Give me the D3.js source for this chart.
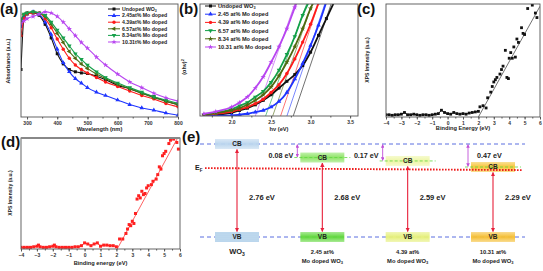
<!DOCTYPE html>
<html><head><meta charset="utf-8">
<script src="https://cdn.jsdelivr.net/npm/d3@7"></script>
<style>
body{margin:0;background:#fff}
svg{display:block;font-family:"Liberation Sans",Arial,sans-serif;font-weight:bold}
</style></head><body>
<svg id="fig" width="543" height="271"></svg>
<script>
// ── Data ────────────────────────────────────────────────────────────────────
const sampleLabelsA = ['Undoped WO', '2.45at% Mo doped', '4.39at% Mo doped', '6.57at% Mo doped', '8.34at% Mo doped', '10.31t% Mo doped'];
const sampleLabelsB = ['Undoped WO', '2.45 at% Mo doped', '4.39 at% Mo doped', '6.57 at% Mo doped', '8.34 at% Mo doped', '10.31 at% Mo doped'];

// (a) absorbance vs wavelength
const wavelengths = [280, 290, 300, 320, 340, 360, 380, 400, 420, 440, 460, 480, 500, 530, 560, 600, 640, 680, 720, 760, 800];
const absUndoped = [0.42, 0.88, 0.92, 0.92, 0.90, 0.82, 0.70, 0.56, 0.47, 0.42, 0.40, 0.39, 0.385, 0.36, 0.33, 0.28, 0.25, 0.21, 0.18, 0.14, 0.11];
const abs245 = [0.80, 0.89, 0.91, 0.93, 0.91, 0.84, 0.73, 0.60, 0.48, 0.40, 0.34, 0.30, 0.26, 0.22, 0.19, 0.15, 0.11, 0.08, 0.06, 0.035, 0.015];
const abs439 = [0.72, 0.87, 0.91, 0.92, 0.92, 0.87, 0.79, 0.69, 0.60, 0.52, 0.46, 0.42, 0.39, 0.35, 0.31, 0.27, 0.23, 0.19, 0.16, 0.12, 0.09];
const abs657 = [0.85, 0.91, 0.92, 0.93, 0.92, 0.89, 0.82, 0.74, 0.66, 0.58, 0.52, 0.47, 0.43, 0.38, 0.34, 0.29, 0.25, 0.21, 0.17, 0.14, 0.11];
const abs834 = [0.86, 0.91, 0.92, 0.93, 0.92, 0.90, 0.84, 0.77, 0.70, 0.63, 0.56, 0.51, 0.46, 0.40, 0.35, 0.30, 0.26, 0.22, 0.18, 0.15, 0.12];
const abs1031 = [0.83, 0.85, 0.87, 0.89, 0.91, 0.93, 0.92, 0.89, 0.84, 0.78, 0.72, 0.66, 0.61, 0.53, 0.46, 0.38, 0.31, 0.26, 0.21, 0.17, 0.14];

// (b) Tauc plot (αhν)² vs hν
const photonEv = [1.65, 1.8, 2.0, 2.1, 2.2, 2.3, 2.4, 2.5, 2.6, 2.7, 2.8, 2.9, 3.0, 3.1, 3.2, 3.3];
const taucUndoped = [0, 0.01, 0.03, 0.05, 0.07, 0.10, 0.14, 0.19, 0.25, 0.31, 0.37, 0.45, 0.57, 0.72, 0.87, 1.02];
const tauc245 = [0, 0.003, 0.006, 0.012, 0.02, 0.035, 0.05, 0.08, 0.13, 0.21, 0.33, 0.47, 0.63, 0.81, 1.02];
const tauc439 = [0.01, 0.02, 0.04, 0.06, 0.08, 0.11, 0.15, 0.21, 0.28, 0.38, 0.51, 0.66, 0.82, 1.01];
const tauc657 = [0.01, 0.03, 0.06, 0.09, 0.12, 0.17, 0.22, 0.30, 0.41, 0.55, 0.71, 0.90, 1.05];
const tauc834 = [0.01, 0.025, 0.05, 0.07, 0.10, 0.14, 0.19, 0.26, 0.36, 0.48, 0.62, 0.78, 0.96, 1.1];
const tauc1031 = [0.02, 0.04, 0.08, 0.12, 0.17, 0.25, 0.35, 0.48, 0.62, 0.78, 0.97, 1.15];
// tangent lines: hν where they meet the baseline and where they reach the top
const tangentLow = [2.78, 2.70, 2.62, 2.43, 2.52, 2.30];
const tangentHigh = [3.26, 3.18, 3.10, 2.95, 3.02, 2.80];

// (c) XPS valence band, undoped WO3
const xpsC = [[-4.0,0.02],[-3.8,0.02],[-3.6,0.015],[-3.4,0.02],[-3.2,0.02],[-3.0,0.025],[-2.8,0.04],[-2.6,0.02],[-2.4,0.02],[-2.2,0.025],[-2.0,0.02],[-1.8,0.015],[-1.6,0.02],[-1.4,0.02],[-1.2,0.015],[-1.0,0.02],[-0.8,0.025],[-0.6,0.03],[-0.4,0.06],[-0.2,0.04],[0.0,0.03],[0.2,0.025],[0.4,0.04],[0.6,0.03],[0.8,0.025],[1.0,0.03],[1.2,0.025],[1.4,0.035],[1.6,0.04],[1.8,0.045],[2.0,0.05],
  [2.1,0.09],[2.3,0.10],[2.5,0.08],[2.6,0.17],[2.8,0.22],[2.9,0.27],[3.0,0.31],[3.1,0.33],[3.2,0.35],[3.4,0.38],[3.5,0.42],[3.6,0.45],[3.75,0.59],[3.85,0.35],[3.95,0.34],[4.0,0.52],[4.1,0.57],[4.2,0.52],[4.3,0.62],[4.4,0.53],[4.5,0.69],[4.6,0.66],[4.8,0.79],[4.9,0.74],[5.0,0.73],[5.2,0.96],[5.5,0.99],[5.7,0.92],[5.8,0.88]];
const fitC = [[2.0, 0], [6.0, 0.98]];

// (d) XPS valence band, Mo doped
const xpsD = [[-4.0,0.015],[-3.8,0.015],[-3.6,0.015],[-3.4,0.015],[-3.2,0.02],[-3.0,0.025],[-2.9,0.035],[-2.8,0.02],[-2.6,0.015],[-2.4,0.015],[-2.2,0.02],[-2.0,0.025],[-1.9,0.035],[-1.8,0.02],[-1.6,0.015],[-1.4,0.015],[-1.2,0.015],[-1.0,0.015],[-0.8,0.015],[-0.6,0.02],[-0.4,0.02],[-0.2,0.03],[0.0,0.055],[0.2,0.045],[0.4,0.03],[0.6,0.045],[0.8,0.055],[1.0,0.025],[1.2,0.035],[1.4,0.035],[1.6,0.03],[1.8,0.03],[2.0,0.02],
  [2.2,0.09],[2.4,0.09],[2.6,0.14],[2.7,0.18],[2.8,0.22],[2.9,0.21],[3.0,0.25],[3.1,0.23],[3.2,0.32],[3.3,0.45],[3.4,0.48],[3.5,0.46],[3.6,0.52],[3.7,0.49],[3.8,0.50],[3.9,0.55],[4.0,0.57],[4.2,0.58],[4.3,0.61],[4.5,0.63],[4.6,0.67],[4.7,0.74],[4.8,0.72],[4.9,0.84],[5.0,0.86],[5.1,0.88],[5.3,0.95],[5.4,0.98],[5.6,0.99],[5.8,0.96],[5.9,0.90]];
const fitD = [[2.05, 0], [5.85, 1.0]];

// (e) band diagram
const bandSamples = ['WO3', '2.45', '4.39', '10.31'];
const cbShift = [0, 0.08, 0.17, 0.47];
const bandGaps = [2.76, 2.68, 2.59, 2.29];
const fermiShift = 0.55;

// ── Figure ──────────────────────────────────────────────────────────────────
const svg = d3.select('#fig');
const defs = svg.append('defs');
const sym = t => d3.symbol().type(t).size(9);

function axisText(sel) {
  sel.selectAll('text').attr('font-size', 5).attr('fill', '#333').attr('font-weight', 'bold');
  sel.selectAll('line').attr('stroke', '#555');
  sel.select('.domain').remove();
}

function makePanel(id, b, xDom, yDom, major, minor, fmt) {
  const x = d3.scaleLinear(xDom, [b.x0, b.x1]);
  const y = d3.scaleLinear(yDom, [b.y1, b.y0]);
  const g = svg.append('g');
  defs.append('clipPath').attr('id', 'clip-' + id).append('rect')
    .attr('x', b.x0).attr('y', b.y0).attr('width', b.x1 - b.x0).attr('height', b.y1 - b.y0);
  g.append('g').attr('transform', `translate(0,${b.y1})`)
    .call(d3.axisBottom(x).tickValues(minor).tickSize(1.5).tickFormat(''))
    .call(axisText);
  g.append('g').attr('transform', `translate(0,${b.y1})`)
    .call(d3.axisBottom(x).tickValues(major).tickSize(2.5).tickPadding(2).tickFormat(fmt))
    .call(axisText);
  const plot = g.append('g').attr('clip-path', `url(#clip-${id})`);
  g.append('rect').attr('x', b.x0).attr('y', b.y0)
    .attr('width', b.x1 - b.x0).attr('height', b.y1 - b.y0)
    .attr('fill', 'none').attr('stroke', '#555').attr('stroke-width', 0.9);
  return { g, plot, x, y };
}

function panelLabel(txt, x, y) {
  svg.append('text').attr('x', x).attr('y', y).attr('font-size', 15).attr('fill', '#111').text(txt);
}

function sideLabel(txt, x, cy, size) {
  return svg.append('text').attr('transform', `translate(${x},${cy}) rotate(-90)`)
    .attr('text-anchor', 'middle').attr('font-size', size || 5).attr('fill', '#222').text(txt);
}

// ── (a) ─────────────────────────────────────────────────────────────────────
const colorsA = ['#111', '#1f35ff', '#ff1a1a', '#4f6a12', '#16a04a', '#b845f0'];
const symA = [d3.symbolSquare, d3.symbolTriangle, d3.symbolCircle, d3.symbolTriangle, d3.symbolTriangle, d3.symbolStar];
const rotA = [0, 0, 0, -90, 180, 0];
const absSeries = [absUndoped, abs245, abs439, abs657, abs834, abs1031];

const A = { x0: 21, x1: 178, y0: 4, y1: 117 };
const pa = makePanel('a', A, [280, 800], [0, 1], d3.range(300, 801, 100), d3.range(300, 801, 50), d3.format('d'));
const lineA = d3.line().x((d, i) => pa.x(wavelengths[i])).y(d => pa.y(d)).curve(d3.curveMonotoneX);
absSeries.forEach((vals, k) => {
  pa.plot.append('path').attr('d', lineA(vals)).attr('fill', 'none')
    .attr('stroke', colorsA[k]).attr('stroke-width', 1.1);
  pa.plot.selectAll(null).data(vals).join('path')
    .attr('d', sym(symA[k]))
    .attr('transform', (d, i) => `translate(${pa.x(wavelengths[i])},${pa.y(d)}) rotate(${rotA[k]})`)
    .attr('fill', colorsA[k]);
});
const legA = svg.append('g');
sampleLabelsA.forEach((s, k) => {
  const yy = 9 + k * 6.6;
  legA.append('line').attr('x1', 108).attr('x2', 120).attr('y1', yy).attr('y2', yy)
    .attr('stroke', colorsA[k]).attr('stroke-width', 1);
  legA.append('path').attr('d', sym(symA[k])).attr('fill', colorsA[k])
    .attr('transform', `translate(114,${yy}) rotate(${rotA[k]})`);
  const t = legA.append('text').attr('x', 122).attr('y', yy + 1.8).attr('font-size', 5.2).attr('fill', '#222').text(s);
  if (k === 0) t.append('tspan').attr('font-size', 3.5).attr('dy', 1.2).text('3');
});
svg.append('text').attr('x', (A.x0 + A.x1) / 2).attr('y', 131).attr('text-anchor', 'middle')
  .attr('font-size', 5.7).attr('fill', '#222').text('Wavelength (nm)');
sideLabel('Absorbance (a.u.)', 10, 61, 5.3);
panelLabel('(a)', 0, 14);

// ── (b) ─────────────────────────────────────────────────────────────────────
const colorsB = ['#111', '#1f35ff', '#ff1a1a', '#12a048', '#4f6a12', '#b845f0'];
const symB = [d3.symbolSquare, d3.symbolTriangle, d3.symbolCircle, d3.symbolTriangle, d3.symbolStar, d3.symbolStar];
const rotB = [0, 0, 0, 180, 0, 0];
const taucSeries = [taucUndoped, tauc245, tauc439, tauc657, tauc834, tauc1031];

const B = { x0: 200, x1: 358, y0: 4, y1: 116 };
const pb = makePanel('b', B, [1.6, 3.6], [0, 1], [2.0, 2.5, 3.0, 3.5], d3.range(1.75, 3.6, 0.25), d3.format('.1f'));
const lineB = d3.line().x((d, i) => pb.x(photonEv[i])).y(d => pb.y(d)).curve(d3.curveMonotoneX);
taucSeries.forEach((vals, k) => {
  pb.plot.append('line')
    .attr('x1', pb.x(tangentLow[k])).attr('y1', pb.y(0))
    .attr('x2', pb.x(tangentHigh[k])).attr('y2', pb.y(1))
    .attr('stroke', colorsB[k]).attr('stroke-width', 0.6);
});
taucSeries.forEach((vals, k) => {
  pb.plot.append('path').attr('d', lineB(vals)).attr('fill', 'none')
    .attr('stroke', colorsB[k]).attr('stroke-width', 1.8);
  pb.plot.selectAll(null).data(vals).join('path')
    .attr('d', sym(symB[k]))
    .attr('transform', (d, i) => `translate(${pb.x(photonEv[i])},${pb.y(d)}) rotate(${rotB[k]})`)
    .attr('fill', colorsB[k]);
});
const legB = svg.append('g');
sampleLabelsB.forEach((s, k) => {
  const yy = 6 + k * 8.2;
  legB.append('line').attr('x1', 205).attr('x2', 216).attr('y1', yy).attr('y2', yy)
    .attr('stroke', colorsB[k]).attr('stroke-width', 1);
  legB.append('path').attr('d', sym(symB[k])).attr('fill', colorsB[k])
    .attr('transform', `translate(210.5,${yy}) rotate(${rotB[k]})`);
  const t = legB.append('text').attr('x', 218).attr('y', yy + 2).attr('font-size', 5.6).attr('fill', '#222').text(s);
  if (k === 0) t.append('tspan').attr('font-size', 3.8).attr('dy', 1.2).text('3');
});
svg.append('text').attr('x', (B.x0 + B.x1) / 2).attr('y', 131).attr('text-anchor', 'middle')
  .attr('font-size', 5.7).attr('fill', '#222').text('hν (eV)');
const yb = sideLabel('(αhν)', 186, 67, 5.5);
yb.append('tspan').attr('font-size', 3.8).attr('dy', -2).text('2');
panelLabel('(b)', 179, 14);

// ── (c) ─────────────────────────────────────────────────────────────────────
const C = { x0: 386, x1: 540, y0: 4, y1: 117 };
const pc = makePanel('c', C, [-4, 6], [0, 1], d3.range(-4, 7, 1), d3.range(-4, 6.1, 0.5), d3.format('d'));
pc.plot.append('path')
  .attr('d', d3.line().x(d => pc.x(d[0])).y(d => pc.y(d[1]))(xpsC.filter(d => d[0] <= 2.05)))
  .attr('fill', 'none').attr('stroke', '#111').attr('stroke-width', 1);
pc.plot.append('line')
  .attr('x1', pc.x(fitC[0][0])).attr('y1', pc.y(fitC[0][1]))
  .attr('x2', pc.x(fitC[1][0])).attr('y2', pc.y(fitC[1][1]))
  .attr('stroke', '#111').attr('stroke-width', 0.6);
pc.plot.selectAll(null).data(xpsC).join('rect')
  .attr('x', d => pc.x(d[0]) - 1.4).attr('y', d => pc.y(d[1]) - 1.4)
  .attr('width', 2.8).attr('height', 2.8).attr('fill', '#111');
svg.append('text').attr('x', (C.x0 + C.x1) / 2).attr('y', 130).attr('text-anchor', 'middle')
  .attr('font-size', 5.7).attr('fill', '#222').text('Binding Energy (eV)');
sideLabel('XPS Intensity (a.u.)', 369, 60, 5);
panelLabel('(c)', 357, 14);

// ── (d) ─────────────────────────────────────────────────────────────────────
const D = { x0: 21, x1: 180, y0: 138, y1: 249 };
const pd = makePanel('d', D, [-4, 6], [0, 1], d3.range(-4, 7, 1), d3.range(-4, 6.1, 0.5), d3.format('d'));
pd.g.append('line').attr('x1', D.x0).attr('x2', D.x1).attr('y1', D.y0).attr('y2', D.y0)
  .attr('stroke', '#888').attr('stroke-width', 2);
pd.plot.append('path')
  .attr('d', d3.line().x(d => pd.x(d[0])).y(d => pd.y(d[1]))(xpsD.filter(d => d[0] <= 2.05)))
  .attr('fill', 'none').attr('stroke', '#ff2020').attr('stroke-width', 1);
pd.plot.append('line')
  .attr('x1', pd.x(fitD[0][0])).attr('y1', pd.y(fitD[0][1]))
  .attr('x2', pd.x(fitD[1][0])).attr('y2', pd.y(fitD[1][1]))
  .attr('stroke', '#ff2020').attr('stroke-width', 0.7);
pd.plot.selectAll(null).data(xpsD).join('rect')
  .attr('x', d => pd.x(d[0]) - 1.5).attr('y', d => pd.y(d[1]) - 1.5)
  .attr('width', 3).attr('height', 3).attr('fill', '#ff2020');
svg.append('text').attr('x', (D.x0 + D.x1) / 2).attr('y', 265).attr('text-anchor', 'middle')
  .attr('font-size', 5.7).attr('fill', '#222').text('Binding energy (eV)');
sideLabel('XPS Intensity (a.u.)', 12, 193, 5);
panelLabel('(d)', 1, 147);

// ── (e) band diagram ────────────────────────────────────────────────────────
const xE = d3.scalePoint(bandSamples, [237, 493]);
const yE = d3.scalePow().exponent(0.3).domain([0, 0.47]).range([144, 167]);
const vbY = 237;
const boxW = 44, boxH = 10;
const cbFill = ['#bcd6ee', '#8fe468', '#eef6a6', '#f6c63a'];
const vbFill = ['#bcd6ee', '#62d83e', '#e6f07c', '#f5bf36'];

function arrowMarker(id, color) {
  defs.append('marker').attr('id', id).attr('viewBox', '0 0 10 10')
    .attr('refX', 9).attr('refY', 5).attr('markerWidth', 4).attr('markerHeight', 4)
    .attr('orient', 'auto-start-reverse')
    .append('path').attr('d', 'M0,0L10,5L0,10z').attr('fill', color);
}
arrowMarker('arr-red', '#e8203a');
arrowMarker('arr-mag', '#c050d8');
const pat = defs.append('pattern').attr('id', 'dots').attr('width', 2).attr('height', 2)
  .attr('patternUnits', 'userSpaceOnUse');
pat.append('rect').attr('width', 2).attr('height', 2).attr('fill', '#c4dcf0');
pat.append('circle').attr('cx', 1).attr('cy', 1).attr('r', 0.4).attr('fill', '#7fb0d8');

// soft vertical gradients for the band boxes
function boxGradient(id, color) {
  const lg = defs.append('linearGradient').attr('id', id).attr('x1', 0).attr('x2', 0).attr('y1', 0).attr('y2', 1);
  lg.append('stop').attr('offset', '0%').attr('stop-color', color).attr('stop-opacity', 0.55);
  lg.append('stop').attr('offset', '50%').attr('stop-color', color).attr('stop-opacity', 1);
  lg.append('stop').attr('offset', '100%').attr('stop-color', color).attr('stop-opacity', 0.55);
}
cbFill.forEach((c, k) => boxGradient('cbg' + k, c));
vbFill.forEach((c, k) => boxGradient('vbg' + k, c));

const ge = svg.append('g');
// reference levels
[yE(0), vbY].forEach(yy => ge.append('line').attr('x1', 200).attr('x2', 525)
  .attr('y1', yy).attr('y2', yy).attr('stroke', '#5a6ee0').attr('stroke-width', 1)
  .attr('stroke-dasharray', '4,3'));

bandSamples.forEach((s, k) => {
  const c = xE(s);
  const cy = yE(cbShift[k]);
  // CB box
  ge.append('rect').attr('x', c - boxW / 2).attr('y', cy - boxH / 2)
    .attr('width', boxW).attr('height', boxH).attr('fill', `url(#cbg${k})`);
  if (k > 0) {
    ge.append('line').attr('x1', c - 28).attr('x2', c + 28).attr('y1', cy).attr('y2', cy)
      .attr('stroke', '#5fd840').attr('stroke-width', 0.8).attr('stroke-dasharray', '3,2');
    const ax = c - 25;
    ge.append('line').attr('x1', ax).attr('x2', ax).attr('y1', yE(0) + 0.5).attr('y2', cy - 0.5)
      .attr('stroke', '#c050d8').attr('stroke-width', 0.9)
      .attr('marker-start', 'url(#arr-mag)').attr('marker-end', 'url(#arr-mag)');
    const right = k === bandSamples.length - 1;
    ge.append('text').attr('x', right ? ax + 9 : ax - 4).attr('y', 158)
      .attr('text-anchor', right ? 'start' : 'end').attr('font-size', 7.2).attr('fill', '#222')
      .text(cbShift[k].toFixed(2) + ' eV');
  }
  ge.append('text').attr('x', c).attr('y', cy + 2.3).attr('text-anchor', 'middle')
    .attr('font-size', 6.5).attr('fill', '#222').text('CB');
  // VB box
  ge.append('rect').attr('x', c - boxW / 2).attr('y', vbY - boxH / 2)
    .attr('width', boxW).attr('height', boxH).attr('fill', k === 0 ? 'url(#dots)' : `url(#vbg${k})`);
  ge.append('text').attr('x', c).attr('y', vbY + 2.3).attr('text-anchor', 'middle')
    .attr('font-size', 6.5).attr('fill', '#222').text('VB');
  // gap arrow
  ge.append('line').attr('x1', c).attr('x2', c).attr('y1', cy + boxH / 2 + 0.5).attr('y2', vbY - boxH / 2 - 0.5)
    .attr('stroke', '#e8203a').attr('stroke-width', 1.1)
    .attr('marker-start', 'url(#arr-red)').attr('marker-end', 'url(#arr-red)');
  ge.append('text').attr('x', c + 12).attr('y', 200).attr('font-size', 7.5).attr('fill', '#222')
    .text(bandGaps[k].toFixed(2) + ' eV');
  // sample labels
  if (k === 0) {
    const t = ge.append('text').attr('x', c).attr('y', 254).attr('text-anchor', 'middle')
      .attr('font-size', 7.5).attr('fill', '#222').text('WO');
    t.append('tspan').attr('font-size', 5).attr('dy', 1.5).text('3');
  } else {
    ge.append('text').attr('x', c).attr('y', 254).attr('text-anchor', 'middle')
      .attr('font-size', 5.8).attr('fill', '#222').text(s + ' at%');
    const t = ge.append('text').attr('x', c).attr('y', 263).attr('text-anchor', 'middle')
      .attr('font-size', 5.8).attr('fill', '#222').text('Mo doped WO');
    t.append('tspan').attr('font-size', 4).attr('dy', 1.2).text('3');
  }
});
// Fermi level
ge.append('line').attr('x1', 205).attr('x2', 522).attr('y1', yE(fermiShift)).attr('y2', yE(fermiShift) + 2)
  .attr('stroke', '#ee1c1c').attr('stroke-width', 1.9).attr('stroke-dasharray', '1.6,1.4');
const ef = ge.append('text').attr('x', 195).attr('y', yE(fermiShift) + 2).attr('font-size', 7).attr('fill', '#222').text('E');
ef.append('tspan').attr('font-size', 4.5).attr('dy', 1.5).text('F');
panelLabel('(e)', 182, 142);
</script></body></html>
